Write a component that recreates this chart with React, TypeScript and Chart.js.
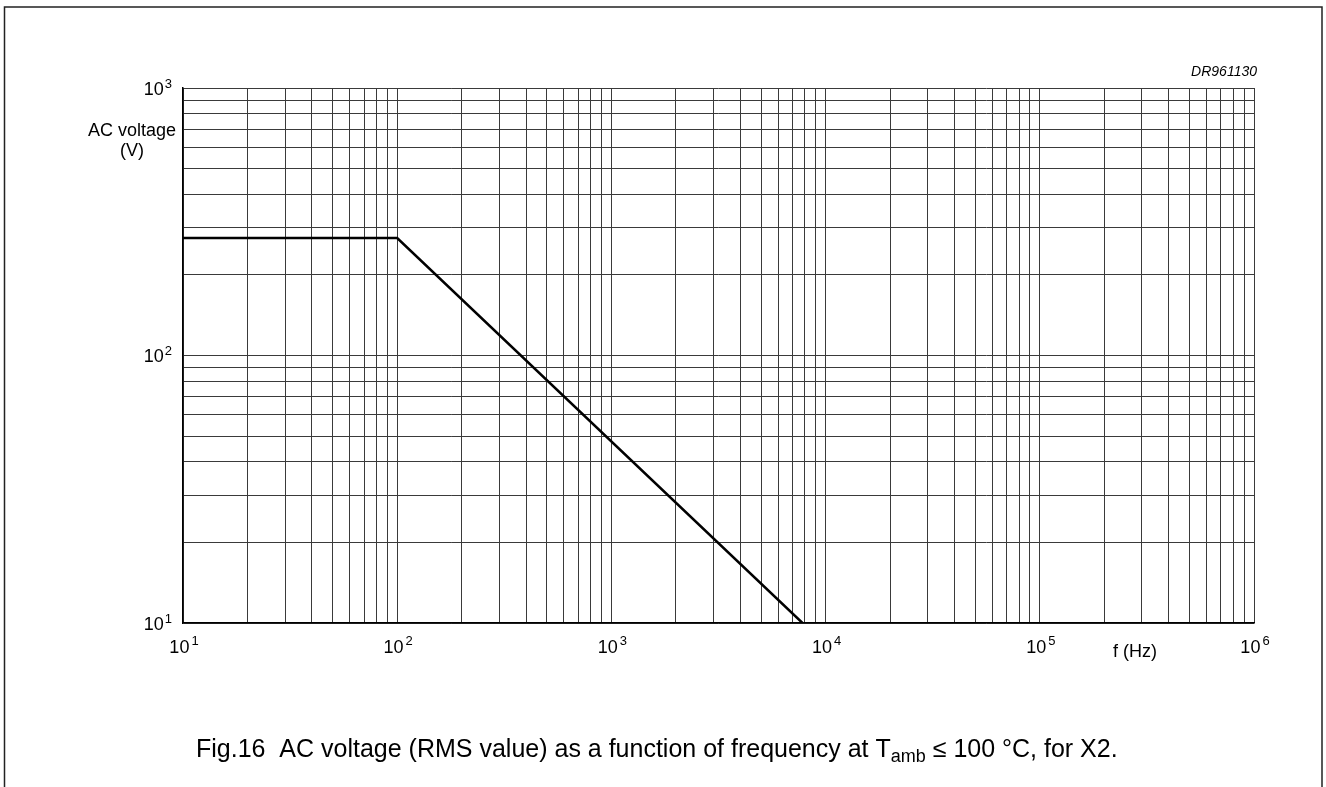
import { useEffect, useRef } from "react";
import { Chart, registerables } from "chart.js";

Chart.register(...registerables);

// ---- data ----
const frequencyHz = [10, 100, 7800];
const acVoltageV = [275, 275, 10];

// ---- axis tick labels (decades) ----
const xDecades = [10, 100, 1000, 10000, 100000, 1000000];
const xExponents = ["1", "2", "3", "4", "5", "6"];
const yDecades = [10, 100, 1000];
const yExponents = ["1", "2", "3"];
const minorMultipliers = [1, 2, 3, 4, 5, 6, 7, 8, 9];

const xTitle = "f (Hz)";
const yTitleLines = ["AC voltage", "(V)"];
const drawingCode = "DR961130";
const captionStart = "Fig.16  AC voltage (RMS value) as a function of frequency at T";
const captionSub = "amb";
const captionEnd = " \u2264 100 \u00B0C, for X2.";

const FONT = '"Liberation Sans", Arial, Helvetica, sans-serif';

function gridValues(decades: number[]) {
  const out: number[] = [];
  decades.forEach((d, i) => {
    if (i === decades.length - 1) {
      out.push(d);
      return;
    }
    minorMultipliers.forEach((m) => out.push(d * m));
  });
  return out;
}

const annotate = {
  id: "annotate",
  afterDraw(chart: any) {
    const ctx: CanvasRenderingContext2D = chart.ctx;
    const xs = chart.scales.x;
    const ys = chart.scales.y;
    const area = chart.chartArea;
    const big = `18px ${FONT}`;
    const small = `13px ${FONT}`;
    ctx.save();
    ctx.fillStyle = "#000";
    ctx.textBaseline = "middle";

    // y tick labels
    yDecades.forEach((v, i) => {
      const py = ys.getPixelForValue(v);
      const exp = yExponents[i];
      ctx.font = small;
      const ew = ctx.measureText(exp).width;
      const right = area.left - 11;
      ctx.textAlign = "left";
      ctx.fillText(exp, right - ew, py - 4);
      ctx.font = big;
      ctx.textAlign = "right";
      ctx.fillText("10", right - ew - 1, py + 2);
    });

    // x tick labels
    xDecades.forEach((v, i) => {
      const px = xs.getPixelForValue(v);
      const exp = xExponents[i];
      ctx.font = big;
      const bw = ctx.measureText("10").width;
      ctx.font = small;
      const ew = ctx.measureText(exp).width;
      const gap = 2;
      const left = px - (bw + gap + ew) / 2 + 1;
      ctx.font = big;
      ctx.textAlign = "left";
      ctx.fillText("10", left, area.bottom + 25);
      ctx.font = small;
      ctx.fillText(exp, left + bw + gap, area.bottom + 18);
    });

    // axis titles
    ctx.font = big;
    ctx.textAlign = "center";
    ctx.fillText(xTitle, 1135, area.bottom + 29);
    ctx.fillText(yTitleLines[0], 132, 131);
    ctx.fillText(yTitleLines[1], 132, 151);

    // drawing code
    ctx.font = `italic 14px ${FONT}`;
    ctx.textAlign = "right";
    ctx.fillText(drawingCode, area.right + 3, area.top - 16);

    // caption
    const capBig = `25px ${FONT}`;
    const capSmall = `18px ${FONT}`;
    ctx.font = capBig;
    ctx.textAlign = "left";
    let cx = 196;
    const cy = 750;
    ctx.fillText(captionStart, cx, cy);
    cx += ctx.measureText(captionStart).width;
    ctx.font = capSmall;
    ctx.fillText(captionSub, cx, cy + 7);
    cx += ctx.measureText(captionSub).width;
    ctx.font = capBig;
    ctx.fillText(captionEnd, cx, cy);

    // outer frame (open at bottom)
    ctx.strokeStyle = "#222";
    ctx.lineWidth = 1.5;
    ctx.beginPath();
    ctx.moveTo(4.5, 787);
    ctx.lineTo(4.5, 7);
    ctx.lineTo(1322, 7);
    ctx.lineTo(1322, 787);
    ctx.stroke();
    ctx.restore();
  },
};

export default function App() {
  const ref = useRef<HTMLCanvasElement>(null);
  useEffect(() => {
    if (!ref.current) return;
    const xGrid = gridValues(xDecades);
    const yGrid = gridValues(yDecades);
    const chart = new Chart(ref.current, {
      type: "scatter",
      data: {
        datasets: [
          {
            data: frequencyHz.map((f, i) => ({ x: f, y: acVoltageV[i] })),
            showLine: true,
            borderColor: "#000",
            borderWidth: 2.5,
            pointRadius: 0,
            tension: 0,
            fill: false,
          },
        ],
      },
      options: {
        responsive: false,
        animation: false,
        events: [],
        layout: { padding: { left: 183, right: 72, top: 88, bottom: 164 } },
        plugins: { legend: { display: false }, tooltip: { enabled: false } },
        scales: {
          x: {
            type: "logarithmic",
            min: 10,
            max: 1000000,
            afterBuildTicks: (s: any) => {
              s.ticks = xGrid.map((value) => ({ value }));
            },
            ticks: { display: false },
            grid: { color: "#3a3a3a", lineWidth: 1, drawTicks: false },
            border: { color: "#000", width: 1.5 },
          },
          y: {
            type: "logarithmic",
            min: 10,
            max: 1000,
            afterBuildTicks: (s: any) => {
              s.ticks = yGrid.map((value) => ({ value }));
            },
            ticks: { display: false },
            grid: { color: "#3a3a3a", lineWidth: 1, drawTicks: false },
            border: { color: "#000", width: 1.5 },
          },
        },
      },
      plugins: [annotate],
    });
    return () => chart.destroy();
  }, []);
  return (
    <div style={{ position: "absolute", left: 0, top: 0, width: 1326, height: 787, background: "#fff" }}>
      <canvas ref={ref} width={1326} height={787} style={{ display: "block" }} />
    </div>
  );
}
